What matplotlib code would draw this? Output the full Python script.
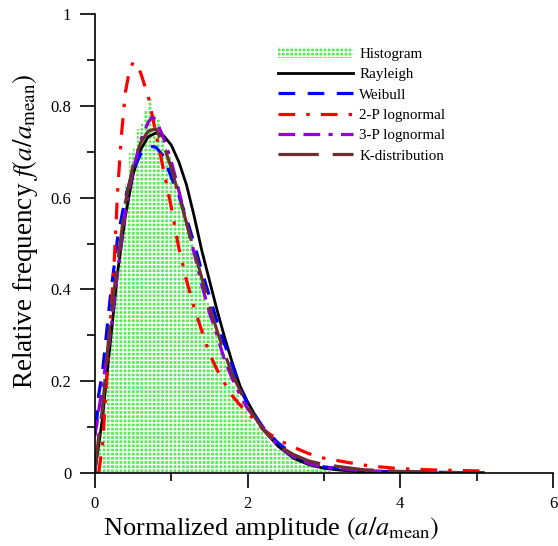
import numpy as np
import matplotlib.pyplot as plt
from matplotlib.ticker import MultipleLocator

plt.rcParams['font.family'] = 'Liberation Serif'
plt.rcParams['mathtext.fontset'] = 'stix'
plt.rcParams['lines.scale_dashes'] = False
plt.rcParams['hatch.linewidth'] = 1.0

# histogram: left edges of bins (width 0.05) and heights
bin_left = np.arange(0, 3.1, 0.05)
hist_h = [0.03, 0.09, 0.17, 0.25, 0.33, 0.41, 0.48, 0.56, 0.63, 0.70,
          0.71, 0.75, 0.76, 0.79, 0.82, 0.78, 0.77, 0.74, 0.71, 0.69,
          0.66, 0.63, 0.60, 0.57, 0.53, 0.50, 0.47, 0.43, 0.40, 0.37,
          0.34, 0.31, 0.29, 0.26, 0.24, 0.21, 0.19, 0.17, 0.155, 0.14,
          0.125, 0.11, 0.10, 0.088, 0.078, 0.07, 0.062, 0.055, 0.05, 0.045,
          0.04, 0.035, 0.03, 0.027, 0.023, 0.02, 0.017, 0.014, 0.011, 0.008,
          0.006, 0.004]

ray_x = [0, 0.1, 0.2, 0.3, 0.4, 0.5, 0.6, 0.7, 0.8, 0.9, 1.0, 1.1, 1.2, 1.3, 1.4,
         1.5, 1.6, 1.7, 1.8, 1.9, 2.0, 2.2, 2.4, 2.6, 2.8, 3.0, 3.2, 3.5, 4.0]
ray_y = [0, 0.12, 0.28, 0.44, 0.56, 0.65, 0.705, 0.733, 0.741, 0.735, 0.715, 0.678,
         0.628, 0.56, 0.485, 0.42, 0.355, 0.295, 0.24, 0.19, 0.155, 0.095, 0.058,
         0.032, 0.018, 0.01, 0.006, 0.002, 0.0]

wei_x = [0.02, 0.05, 0.1, 0.2, 0.3, 0.4, 0.5, 0.6, 0.7, 0.8, 0.9, 1.0, 1.1, 1.2, 1.3,
         1.4, 1.5, 1.6, 1.7, 1.8, 1.9, 2.0, 2.2, 2.4, 2.6, 2.8, 3.0, 3.5, 4.0, 4.5, 5.2]
wei_y = [0.10, 0.17, 0.22, 0.38, 0.515, 0.60, 0.66, 0.695, 0.713, 0.71, 0.69, 0.645,
         0.605, 0.555, 0.50, 0.44, 0.385, 0.33, 0.28, 0.235, 0.185, 0.15, 0.10, 0.065,
         0.04, 0.022, 0.013, 0.004, 0.002, 0.001, 0.0]

ln2_x = [0.05, 0.1, 0.15, 0.2, 0.25, 0.3, 0.35, 0.4, 0.45, 0.5, 0.55, 0.6, 0.7, 0.8,
         0.9, 1.0, 1.1, 1.2, 1.3, 1.4, 1.5, 1.6, 1.7, 1.8, 1.9, 2.0, 2.2, 2.4, 2.6,
         2.8, 3.0, 3.3, 3.6, 4.0, 4.5, 5.1]
ln2_y = [0.0, 0.06, 0.19, 0.32, 0.45, 0.62, 0.74, 0.83, 0.875, 0.895, 0.89, 0.872,
         0.82, 0.74, 0.66, 0.58, 0.49, 0.42, 0.36, 0.31, 0.26, 0.225, 0.195, 0.168,
         0.148, 0.132, 0.095, 0.072, 0.056, 0.042, 0.032, 0.023, 0.015, 0.009,
         0.006, 0.004]

ln3_x = [0.0, 0.1, 0.2, 0.3, 0.4, 0.5, 0.6, 0.7, 0.75, 0.8, 0.9, 1.0, 1.1, 1.2, 1.3,
         1.4, 1.5, 1.6, 1.7, 1.8, 1.9, 2.0, 2.2, 2.4, 2.6, 2.8, 3.0, 3.5, 4.0, 4.5]
ln3_y = [0.08, 0.19, 0.30, 0.44, 0.57, 0.66, 0.725, 0.765, 0.775, 0.77, 0.73, 0.68,
         0.615, 0.545, 0.48, 0.41, 0.35, 0.30, 0.245, 0.205, 0.17, 0.14, 0.098,
         0.058, 0.035, 0.02, 0.012, 0.005, 0.002, 0.0]

k_x = [0.0, 0.05, 0.1, 0.2, 0.3, 0.4, 0.5, 0.6, 0.7, 0.8, 0.9, 1.0, 1.1, 1.2, 1.3,
       1.4, 1.5, 1.6, 1.7, 1.8, 1.9, 2.0, 2.2, 2.4, 2.6, 2.8, 3.0, 3.5, 4.0, 4.5, 5.2]
k_y = [0.0, 0.08, 0.14, 0.33, 0.46, 0.59, 0.67, 0.72, 0.745, 0.75, 0.715, 0.665,
       0.605, 0.545, 0.485, 0.425, 0.365, 0.31, 0.26, 0.215, 0.18, 0.145, 0.095,
       0.06, 0.04, 0.026, 0.018, 0.007, 0.003, 0.001, 0.0]

fig = plt.figure(figsize=(5.58, 5.46), dpi=100)
ax = fig.add_axes([0.170, 0.134, 0.821, 0.840])

bars = ax.bar(bin_left, hist_h, width=0.05, align='edge', facecolor='#55ee55',
              edgecolor='white', hatch='++++', linewidth=0, label='Histogram')
l1, = ax.plot(ray_x, ray_y, color='black', lw=2.0, label='Rayleigh')
l2, = ax.plot(wei_x, wei_y, color='#0000ff', lw=2.3, dashes=(12, 9),
              label='Weibull')
l3, = ax.plot(ln2_x, ln2_y, color='#ff0000', lw=2.3, dashes=(12, 8, 2.5, 8),
              label='2-P lognormal')
l4, = ax.plot(ln3_x, ln3_y, color='#9400d3', lw=2.3,
              dashes=(12, 6, 12, 6, 3, 6), label='3-P lognormal')
l5, = ax.plot(k_x, k_y, color='#6b3030', lw=2.3, dashes=(29, 10),
              label='K-distribution')

ax.set_xlim(0, 6)
ax.set_ylim(0, 1)
ax.xaxis.set_major_locator(MultipleLocator(2))
ax.xaxis.set_minor_locator(MultipleLocator(1))
ax.yaxis.set_minor_locator(MultipleLocator(0.1))
ax.set_yticks([0, 0.2, 0.4, 0.6, 0.8, 1.0])
ax.set_yticklabels(['0', '0.2', '0.4', '0.6', '0.8', '1'])
ax.spines['top'].set_visible(False)
ax.spines['right'].set_visible(False)
ax.spines['left'].set_linewidth(1.2)
ax.spines['bottom'].set_linewidth(1.2)
ax.tick_params(which='major', direction='out', length=11, width=1.2,
               labelsize=12)
ax.tick_params(axis='y', which='major', pad=6)
ax.tick_params(axis='x', which='major', pad=6)
ax.tick_params(which='minor', direction='out', length=5.5, width=1.2)

ax.set_xlabel(r'Normalized amplitude $(a/a_{\rm mean})$', fontsize=19)
ax.set_ylabel(r'Relative frequency $f(a/a_{\rm mean})$', fontsize=19.5)
ax.xaxis.set_label_coords(0.386, -0.093)
ax.yaxis.set_label_coords(-0.12, 0.527)

ax.legend(handles=[bars, l1, l2, l3, l4, l5], loc='upper left',
          bbox_to_anchor=(0.40, 0.928), frameon=False, fontsize=10.8,
          handlelength=5.0, handletextpad=0.4, labelspacing=0.46,
          borderpad=0, borderaxespad=0)

fig.savefig('out.png', dpi=100)
